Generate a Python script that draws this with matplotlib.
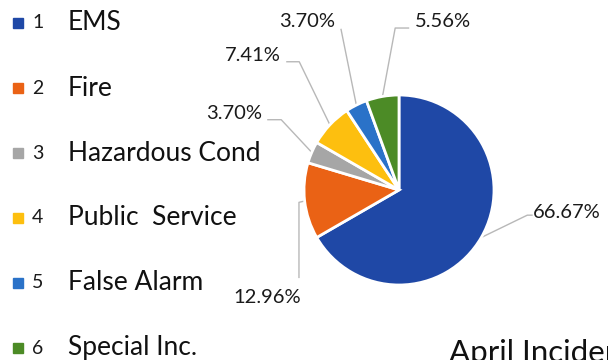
import matplotlib.pyplot as plt
from matplotlib.patches import Rectangle
import numpy as np

plt.rcParams['font.family'] = ['Lato', 'DejaVu Sans']

categories = ['EMS', 'Fire', 'Hazardous Cond', 'Public  Service', 'False Alarm', 'Special Inc.']
codes = ['1', '2', '3', '4', '5', '6']
shares = [66.67, 12.96, 3.70, 7.41, 3.70, 5.56]
pct_labels = ['66.67%', '12.96%', '3.70%', '7.41%', '3.70%', '5.56%']
colors = ['#1f48a6', '#ea6215', '#a6a6a6', '#fdbf0f', '#2a72c8', '#4c8b26']
title = 'April Incidents'

W, H = 608, 360
fig = plt.figure(figsize=(W / 100, H / 100), dpi=100)

# pie: centre (399, 190) px, radius 95 px
cx, cy, r = 399, 190, 95
ax = fig.add_axes([(cx - r) / W, 1 - (cy + r) / H, 2 * r / W, 2 * r / H])
wedges, _ = ax.pie(shares, colors=colors, startangle=90, counterclock=False,
                   radius=1.0, wedgeprops=dict(edgecolor='white', linewidth=2))
ax.set_xlim(-1, 1)
ax.set_ylim(-1, 1)
ax.axis('off')

# label layout: text anchor, alignment, leader line bends (pie units)
label_pos = [(1.41, -0.24), (-1.39, -1.13), (-1.44, 0.81),
             (-1.25, 1.42), (-0.97, 1.77), (0.17, 1.77)]
label_ha = ['left', 'center', 'right', 'right', 'center', 'left']
bends = [[(1.35, -0.265), (1.40, -0.265)],
         [(-1.053, -0.13), (-1.053, -0.92)],
         [(-1.24, 0.74), (-1.38, 0.74)],
         [(-1.05, 1.35), (-1.18, 1.35)],
         [(-0.61, 1.69)],
         [(-0.04, 1.705), (0.10, 1.705)]]

for w, txt, pos, ha, bend in zip(wedges, pct_labels, label_pos, label_ha, bends):
    mid = np.deg2rad((w.theta1 + w.theta2) / 2)
    pts = [(np.cos(mid), np.sin(mid))] + bend
    xs, ys = zip(*pts)
    ax.plot(xs, ys, color='#b8b8b8', lw=1, clip_on=False, zorder=0)
    ax.text(pos[0], pos[1], txt, ha=ha, va='center', fontsize=14.5,
            color='#1a1a1a', clip_on=False)

# legend on the left
for i, (code, name, c) in enumerate(zip(codes, categories, colors)):
    yc = 23 + i * 65
    fig.patches.append(Rectangle((13 / W, 1 - (yc + 5) / H), 10 / W, 10 / H,
                                 transform=fig.transFigure, color=c))
    fig.text(32 / W, 1 - yc / H, code, fontsize=14, va='center', color='#1a1a1a')
    fig.text(68 / W, 1 - yc / H, name, fontsize=19, va='center', color='#111111')

# title runs off the page edge, as in the source
fig.text(449 / W, 1 - 339 / H, title, fontsize=22.5, va='top', color='#111111')

fig.savefig('out.png', dpi=100)
